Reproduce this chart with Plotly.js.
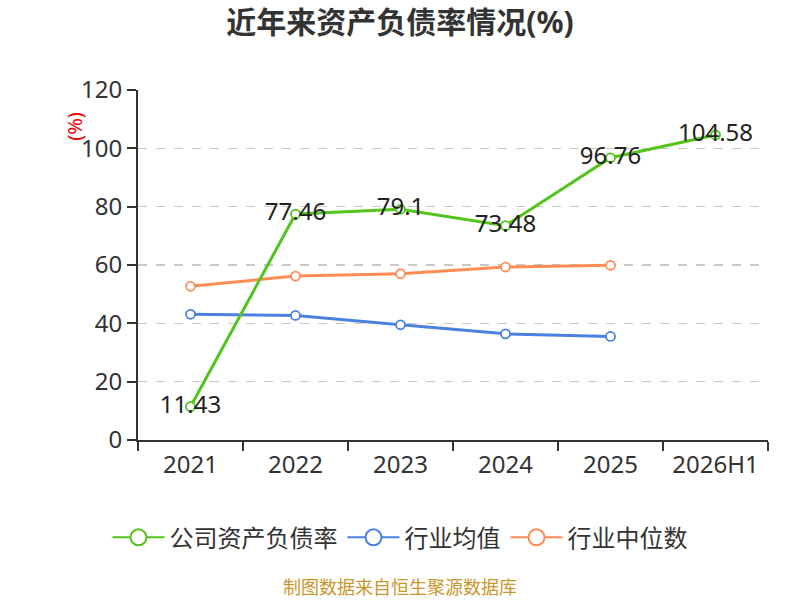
<!DOCTYPE html>
<html>
<head>
<meta charset="utf-8">
<script src="https://cdn.plot.ly/plotly-3.0.1.min.js"></script>
<style>
  html, body { margin: 0; padding: 0; background: #fff; }
  #chart { width: 800px; height: 600px; }
</style>
</head>
<body>
<div id="chart"></div>
<script>
const years = ["2021", "2022", "2023", "2024", "2025", "2026H1"];
const companyRatio = [11.43, 77.46, 79.1, 73.48, 96.76, 104.58];
const industryMean = [43.1, 42.7, 39.5, 36.4, 35.5];
const industryMedian = [52.7, 56.2, 57.0, 59.3, 59.9];

const FONT = "'Noto Sans', 'Noto Sans CJK SC', sans-serif";
const GREEN = "#52c41a";
const BLUE = "#4a80e0";
const ORANGE = "#ff8c55";

// the plot area spans 138..768 px, so page centre 400 in paper units
const PAGE_MID = (400 - 138) / 630;

function lineTrace(name, y, color, withLabels) {
  const t = {
    x: years.slice(0, y.length),
    y: y,
    name: name,
    type: "scatter",
    mode: withLabels ? "lines+markers+text" : "lines+markers",
    line: { color: color, width: 3 },
    marker: { size: 9, color: "#fff", line: { color: color, width: 1.8 } },
    showlegend: false,
    hoverinfo: "x+y"
  };
  if (withLabels) {
    t.text = y.map(v => String(v));
    t.textposition = "middle center";
    t.textfont = { family: FONT, size: 24, color: "#222" };
  }
  return t;
}

// legend-only entries so the legend symbol can be bigger than plot markers
function legendTrace(name, color) {
  return {
    x: [null], y: [null],
    name: name,
    type: "scatter",
    mode: "lines+markers",
    line: { color: color, width: 2 },
    marker: { size: 16, color: "#fff", line: { color: color, width: 2 } },
    showlegend: true
  };
}

const traces = [
  lineTrace("行业中位数", industryMedian, ORANGE, false),
  lineTrace("行业均值", industryMean, BLUE, false),
  lineTrace("公司资产负债率", companyRatio, GREEN, true),
  legendTrace("公司资产负债率", GREEN),
  legendTrace("行业均值", BLUE),
  legendTrace("行业中位数", ORANGE)
];

const layout = {
  width: 800,
  height: 600,
  margin: { l: 138, r: 32, t: 90, b: 160 },
  paper_bgcolor: "#fff",
  plot_bgcolor: "#fff",
  font: { family: FONT, color: "#333" },
  title: {
    text: "<b>近年来资产负债率情况(%)</b>",
    font: { family: FONT, size: 30, color: "#333" },
    x: 0.5, xanchor: "center",
    y: 0.962, yanchor: "middle"
  },
  xaxis: {
    type: "category",
    range: [-0.5, 5.5],
    showline: true,
    linecolor: "#333",
    linewidth: 2,
    ticks: "outside",
    tickson: "boundaries",
    ticklen: 9,
    tickwidth: 2,
    tickcolor: "#333",
    showgrid: false,
    ticklabelstandoff: 2,
    tickfont: { family: FONT, size: 24, color: "#333" },
    fixedrange: true
  },
  yaxis: {
    range: [0, 120],
    dtick: 20,
    showline: true,
    linecolor: "#333",
    linewidth: 2,
    ticks: "outside",
    ticklen: 9,
    tickwidth: 2,
    tickcolor: "#333",
    showgrid: true,
    gridcolor: "#c8c8c8",
    griddash: "dash",
    gridwidth: 1.5,
    zeroline: false,
    tickfont: { family: FONT, size: 24, color: "#333" },
    fixedrange: true
  },
  legend: {
    orientation: "h",
    x: PAGE_MID, xanchor: "center",
    y: -0.215, yanchor: "top",
    font: { family: FONT, size: 24, color: "#333" },
    itemwidth: 52,
    traceorder: "normal"
  },
  annotations: [
    {
      text: "(%)",
      xref: "paper", yref: "paper",
      x: -0.1, y: 0.895,
      xanchor: "center", yanchor: "middle",
      textangle: -90,
      showarrow: false,
      font: { family: FONT, size: 20, color: "#e00" }
    },
    {
      text: "制图数据来自恒生聚源数据库",
      xref: "paper", yref: "paper",
      x: PAGE_MID, y: -0.42,
      xanchor: "center", yanchor: "middle",
      showarrow: false,
      font: { family: FONT, size: 18, color: "#c9962c" }
    }
  ]
};

Plotly.newPlot("chart", traces, layout, { displayModeBar: false, staticPlot: true });
</script>
</body>
</html>
